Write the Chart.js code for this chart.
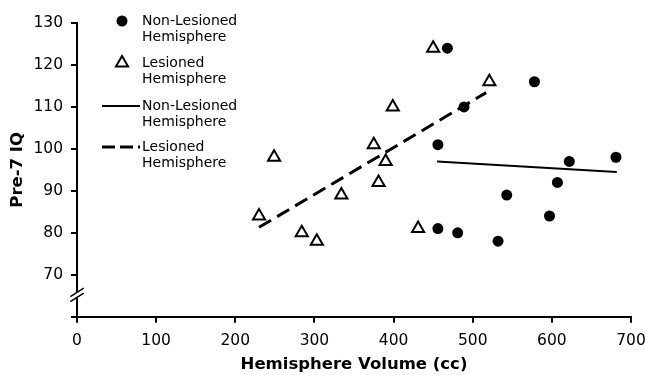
<!DOCTYPE html>
<html>
<head>
<meta charset="utf-8">
<script src="https://cdn.jsdelivr.net/npm/chart.js"></script>
<style>
  html, body { margin: 0; padding: 0; background: #fff; }
  #wrap { width: 645px; height: 377px; }
</style>
</head>
<body>
<div id="wrap"><canvas id="chart" width="645" height="377"></canvas></div>
<script>
// values
var nonLesionedX = [468, 489, 456, 456, 481, 532, 578, 622, 681, 607, 543, 597];
var nonLesionedY = [124, 110, 101, 81, 80, 78, 116, 97, 98, 92, 89, 84];
var lesionedX = [450, 521, 399, 375, 249, 390, 381, 334, 230, 284, 303, 431];
var lesionedY = [124, 116, 110, 101, 98, 97, 92, 89, 84, 80, 78, 81];

// fitted lines (end points)
var nonFitX = [455, 682];
var nonFitY = [97.0, 94.5];
var lesFitX = [230, 517];
var lesFitY = [81.3, 113.4];

var xTicks = [0, 100, 200, 300, 400, 500, 600, 700];
var yTicks = [60, 70, 80, 90, 100, 110, 120, 130];

var legendLabels = [
    ['Non-Lesioned', 'Hemisphere'],
    ['Lesioned', 'Hemisphere'],
    ['Non-Lesioned', 'Hemisphere'],
    ['Lesioned', 'Hemisphere']
];

function cObj(id) {
    return document.getElementById(id);
}

function toPoints(xs, ys) {
    var pts = [];
    for (let i = 0; i < xs.length; i++) {
        pts.push({ x: xs[i], y: ys[i] });
    }
    return pts;
}

var FONT = "'DejaVu Sans', Verdana, sans-serif";

// legend drawn by hand, labels are on two lines
var legendPlugin = {
    id: 'twoLineLegend',
    afterDraw: function (chart) {
        var ctx = chart.ctx;
        var rows = [21, 63, 106, 147];
        var textX = 142;
        ctx.save();
        ctx.fillStyle = '#000';
        ctx.strokeStyle = '#000';
        for (let i = 0; i < legendLabels.length; i++) {
            var y = rows[i];
            if (i == 0) {
                ctx.beginPath();
                ctx.arc(122, y, 5.5, 0, Math.PI * 2);
                ctx.fill();
            } else if (i == 1) {
                var r = 7;
                ctx.beginPath();
                ctx.moveTo(122, y - r);
                ctx.lineTo(122 + r * Math.sin(Math.PI / 3), y + r / 2);
                ctx.lineTo(122 - r * Math.sin(Math.PI / 3), y + r / 2);
                ctx.closePath();
                ctx.fillStyle = '#fff';
                ctx.fill();
                ctx.lineWidth = 2;
                ctx.stroke();
                ctx.fillStyle = '#000';
            } else {
                ctx.beginPath();
                ctx.lineWidth = i == 2 ? 2 : 3;
                ctx.setLineDash(i == 2 ? [] : [13, 5]);
                ctx.moveTo(102, y);
                ctx.lineTo(140, y);
                ctx.stroke();
                ctx.setLineDash([]);
            }
            ctx.font = '14px ' + FONT;
            ctx.textBaseline = 'middle';
            ctx.textAlign = 'left';
            ctx.fillText(legendLabels[i][0], textX, y);
            ctx.fillText(legendLabels[i][1], textX, y + 16);
        }
        ctx.restore();
    }
};

// the // break on the y axis
var breakPlugin = {
    id: 'axisBreak',
    afterDraw: function (chart) {
        var ctx = chart.ctx;
        var x = chart.scales.x.left;
        var y = chart.scales.y.getPixelForValue(65.2);
        var dx = 6.7, dy = 4.2;
        ctx.save();
        ctx.fillStyle = '#fff';
        ctx.beginPath();
        ctx.moveTo(x - 3, y + 2.5 + 2);
        ctx.lineTo(x + 3, y + 2.5 - 2);
        ctx.lineTo(x + 3, y - 2.5 - 2);
        ctx.lineTo(x - 3, y - 2.5 + 2);
        ctx.closePath();
        ctx.fill();
        ctx.strokeStyle = '#000';
        ctx.lineWidth = 1.5;
        [2.5, -2.5].forEach(function (off) {
            ctx.beginPath();
            ctx.moveTo(x - dx, y + off + dy);
            ctx.lineTo(x + dx, y + off - dy);
            ctx.stroke();
        });
        ctx.restore();
    }
};

var myChart = new Chart(cObj('chart'), {
    type: 'scatter',
    data: {
        datasets: [{
            label: 'Non-Lesioned Hemisphere',
            data: toPoints(nonLesionedX, nonLesionedY),
            pointStyle: 'circle',
            pointRadius: 5.5,
            backgroundColor: '#000',
            borderColor: '#000',
            borderWidth: 0
        }, {
            label: 'Lesioned Hemisphere',
            data: toPoints(lesionedX, lesionedY),
            pointStyle: 'triangle',
            pointRadius: 7,
            backgroundColor: '#fff',
            borderColor: '#000',
            borderWidth: 2
        }, {
            label: 'Non-Lesioned Hemisphere fit',
            data: toPoints(nonFitX, nonFitY),
            showLine: true,
            pointRadius: 0,
            borderColor: '#000',
            borderWidth: 2,
            fill: false
        }, {
            label: 'Lesioned Hemisphere fit',
            data: toPoints(lesFitX, lesFitY),
            showLine: true,
            pointRadius: 0,
            borderColor: '#000',
            borderWidth: 3,
            borderDash: [14, 7],
            fill: false
        }]
    },
    options: {
        responsive: false,
        animation: false,
        layout: {
            padding: { top: 23, right: 0, left: 0, bottom: 0 }
        },
        scales: {
            x: {
                type: 'linear',
                min: xTicks[0],
                max: xTicks[xTicks.length - 1],
                afterBuildTicks: function (axis) {
                    axis.ticks = xTicks.map(v => ({ value: v }));
                },
                afterFit: function (axis) {
                    axis.height = 60.3;
                    axis.paddingRight = 14;
                    axis.paddingLeft = 0;
                },
                ticks: {
                    color: '#000',
                    padding: 9,
                    maxRotation: 0,
                    font: { family: FONT, size: 15.5 }
                },
                grid: {
                    display: true,
                    drawOnChartArea: false,
                    drawTicks: true,
                    tickLength: 6,
                    color: '#000',
                    lineWidth: 2
                },
                border: { display: true, color: '#000', width: 2 },
                title: {
                    display: true,
                    text: 'Hemisphere Volume (cc)',
                    color: '#000',
                    padding: { top: 0, bottom: 2 },
                    font: { family: FONT, size: 16.5, weight: 'bold' }
                }
            },
            y: {
                type: 'linear',
                min: yTicks[0],
                max: yTicks[yTicks.length - 1],
                afterBuildTicks: function (axis) {
                    axis.ticks = yTicks.map(v => ({ value: v }));
                },
                afterFit: function (axis) { axis.width = 77; },
                ticks: {
                    color: '#000',
                    padding: 8,
                    font: { family: FONT, size: 15.5 },
                    callback: function (v) { return v == 60 ? '' : v; }
                },
                grid: {
                    display: true,
                    drawOnChartArea: false,
                    drawTicks: true,
                    tickLength: 6,
                    color: '#000',
                    lineWidth: 2
                },
                border: { display: true, color: '#000', width: 2 },
                title: {
                    display: true,
                    text: 'Pre-7 IQ',
                    color: '#000',
                    padding: { top: 8, bottom: 0 },
                    font: { family: FONT, size: 16.5, weight: 'bold' }
                }
            }
        },
        plugins: {
            legend: { display: false },
            tooltip: { enabled: false }
        }
    },
    plugins: [legendPlugin, breakPlugin]
});
</script>
</body>
</html>
